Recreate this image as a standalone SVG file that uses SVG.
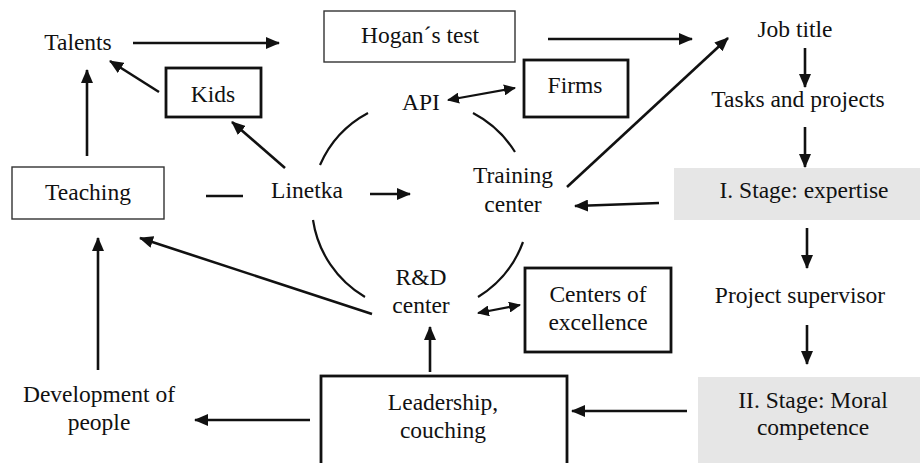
<svg xmlns="http://www.w3.org/2000/svg" width="920" height="463" viewBox="0 0 920 463">
<style>
text{font-family:'Liberation Serif','Times New Roman',Times,Tinos,'Noto Serif','DejaVu Serif',FreeSerif,serif;font-size:23.5px;fill:#111;text-anchor:middle}
.thin{fill:#fff;stroke:#333;stroke-width:1.4}
.thick{fill:#fff;stroke:#111;stroke-width:2.8}
.gray{fill:#e6e6e6;stroke:none}
.c{fill:none;stroke:#111;stroke-width:2.6}
.arc{fill:none;stroke:#111;stroke-width:2.2}
.a{marker-end:url(#ah)}
.d{stroke-width:2.2;marker-end:url(#sh);marker-start:url(#sh)}
</style>
<defs>
<marker id="ah" viewBox="0 0 14 12" refX="13" refY="6" markerWidth="14" markerHeight="12" markerUnits="userSpaceOnUse" orient="auto"><path d="M0,0 L14,6 L0,12 z" fill="#111"/></marker>
<marker id="sh" viewBox="0 0 12 11" refX="11" refY="5.5" markerWidth="12" markerHeight="11" markerUnits="userSpaceOnUse" orient="auto-start-reverse"><path d="M0,0 L12,5.5 L0,11 z" fill="#111"/></marker>
</defs>
<rect width="920" height="463" fill="#fff"/>
<g id="connectors">
<line class="c a" x1="133" y1="43" x2="279" y2="43"/>
<line class="c a" x1="548" y1="39" x2="692" y2="39"/>
<line class="c a" x1="159" y1="92" x2="110" y2="61"/>
<line class="c a" x1="87" y1="156" x2="87" y2="70"/>
<line class="c a" x1="285" y1="168" x2="232" y2="122"/>
<line class="c" x1="206" y1="196" x2="243" y2="196"/>
<line class="c a" x1="370" y1="194" x2="410" y2="194"/>
<line class="c a" x1="372" y1="314" x2="140" y2="238"/>
<line class="c a" x1="98" y1="370" x2="98" y2="238"/>
<line class="c a" x1="567" y1="187" x2="728" y2="38"/>
<line class="c a" x1="659" y1="203" x2="575" y2="206"/>
<line class="c a" x1="805" y1="48" x2="805" y2="87"/>
<line class="c a" x1="805" y1="127" x2="805" y2="167"/>
<line class="c a" x1="807" y1="228" x2="807" y2="268"/>
<line class="c a" x1="807" y1="325" x2="807" y2="364"/>
<line class="c a" x1="687" y1="411" x2="572" y2="411"/>
<line class="c a" x1="430" y1="372" x2="430" y2="327"/>
<line class="c a" x1="310" y1="420" x2="195" y2="420"/>
<line class="c d" x1="448" y1="100" x2="515" y2="88"/>
<line class="c d" x1="478" y1="313" x2="520" y2="305"/>
<path class="arc" d="M368,113 A108,108 0 0,0 320,165"/>
<path class="arc" d="M313,220 A108,108 0 0,0 365,297"/>
<path class="arc" d="M523,242 A108,108 0 0,1 478,297"/>
<path class="arc" d="M473,113 A108,108 0 0,1 515,152"/>
</g>
<g id="talents"><text x="78" y="50">Talents</text></g>
<g id="hogan"><rect class="thin" x="324" y="11" width="191" height="51"/><text x="420" y="43">Hogan´s test</text></g>
<g id="jobtitle"><text x="795" y="37">Job title</text></g>
<g id="kids"><rect class="thick" x="166" y="68" width="95" height="49"/><text x="213" y="102">Kids</text></g>
<g id="api"><text x="421" y="110">API</text></g>
<g id="firms"><rect class="thick" x="524" y="60" width="104" height="57"/><text x="575" y="93">Firms</text></g>
<g id="tasks"><text x="798" y="107">Tasks and projects</text></g>
<g id="teaching"><rect class="thin" x="12" y="167" width="152" height="52"/><text x="88" y="200">Teaching</text></g>
<g id="linetka"><text x="307" y="198">Linetka</text></g>
<g id="training"><text x="513" y="183">Training</text><text x="513" y="212">center</text></g>
<g id="stage1"><rect class="gray" x="674" y="168" width="246" height="52"/><text x="804" y="198">I. Stage: expertise</text></g>
<g id="rd"><text x="421" y="285">R&amp;D</text><text x="421" y="313">center</text></g>
<g id="centers"><rect class="thick" x="525" y="268" width="146" height="84"/><text x="598" y="302">Centers of</text><text x="598" y="330">excellence</text></g>
<g id="supervisor"><text x="800" y="303">Project supervisor</text></g>
<g id="development"><text x="99" y="402">Development of</text><text x="99" y="430">people</text></g>
<g id="leadership"><rect class="thick" x="321" y="376" width="246" height="90"/><text x="443" y="410">Leadership,</text><text x="443" y="438">couching</text></g>
<g id="stage2"><rect class="gray" x="698" y="377" width="222" height="86"/><text x="813" y="408">II. Stage: Moral</text><text x="813" y="435">competence</text></g>
</svg>
